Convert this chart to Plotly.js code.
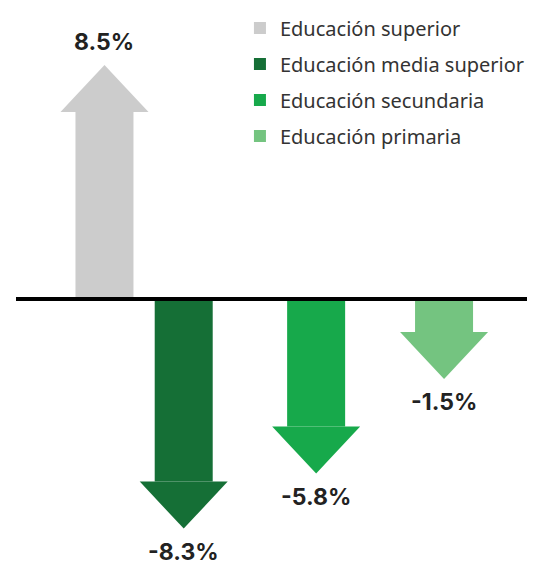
<!DOCTYPE html>
<html>
<head>
<meta charset="utf-8">
<script src="https://cdn.plot.ly/plotly-3.0.1.min.js"></script>
<style>html,body{margin:0;padding:0;background:#fff;}#chart{width:538px;height:569px;}</style>
</head>
<body>
<div id="chart"></div>
<script>
// ---- data ----
const categories = ["Educación superior", "Educación media superior", "Educación secundaria", "Educación primaria"];
const values = [8.5, -8.3, -5.8, -1.5];
const labels = ["8.5%", "-8.3%", "-5.8%", "-1.5%"];

// ---- layout / style ----
const colors = ["#cccccc", "#156f36", "#17a94b", "#74c480"];
const slots = [0, 0.7, 1.87, 3];          // horizontal slot of each arrow
const W = 538, H = 569;
const zeroPx = 299, pxUnit = 22;
const xRange = [-0.923, 3.83];
const yRange = [-(H - zeroPx) / pxUnit, zeroPx / pxUnit];
const pxPerY = H / (yRange[1] - yRange[0]);
const pxPerX = W / (xRange[1] - xRange[0]);
const shaftW = 58 / pxPerX;
const headW = 88 / pxPerX;
const headH = 47 / pxPerY;

const traces = [];
categories.forEach((c, i) => {
  traces.push({
    type: "bar", x: [slots[i]], y: [values[i]], base: 0, width: shaftW,
    name: c, legendgroup: c, marker: {color: colors[i], line: {width: 0}},
    hoverinfo: "skip"
  });
});
categories.forEach((c, i) => {
  const v = values[i], s = Math.sign(v), x = slots[i];
  traces.push({
    type: "scatter", mode: "lines", fill: "toself", showlegend: false,
    legendgroup: c, hoverinfo: "skip",
    x: [x - headW / 2, x, x + headW / 2, x - headW / 2],
    y: [v, v + s * headH, v, v],
    line: {width: 0, color: colors[i]}, fillcolor: colors[i]
  });
});

const annotations = categories.map((c, i) => {
  const v = values[i], s = Math.sign(v);
  return {
    x: slots[i], y: v + s * headH, xref: "x", yref: "y", text: labels[i],
    showarrow: false, yanchor: "middle", yshift: s * 23, borderpad: 0,
    font: {family: "Inter, 'Noto Sans', sans-serif", size: 23, color: "#222222", weight: 700}
  };
});

const layout = {
  width: W, height: H,
  margin: {l: 0, r: 0, t: 0, b: 0},
  paper_bgcolor: "#ffffff", plot_bgcolor: "#ffffff",
  barmode: "overlay",
  xaxis: {range: xRange, visible: false, fixedrange: true},
  yaxis: {range: yRange, visible: false, fixedrange: true},
  showlegend: true,
  legend: {
    x: 0.446, xanchor: "left", y: 0.985, yanchor: "top",
    traceorder: "grouped", tracegroupgap: 7,
    bgcolor: "rgba(0,0,0,0)",
    font: {family: "'Noto Sans', Lato, sans-serif", size: 20, color: "#333333"}
  },
  shapes: [{
    type: "line", xref: "paper", yref: "y", x0: 16 / W, x1: 527 / W, y0: 0, y1: 0,
    line: {color: "#000000", width: 4}, layer: "above"
  }],
  annotations: annotations
};

Plotly.newPlot("chart", traces, layout, {displayModeBar: false, staticPlot: true});
</script>
</body>
</html>
